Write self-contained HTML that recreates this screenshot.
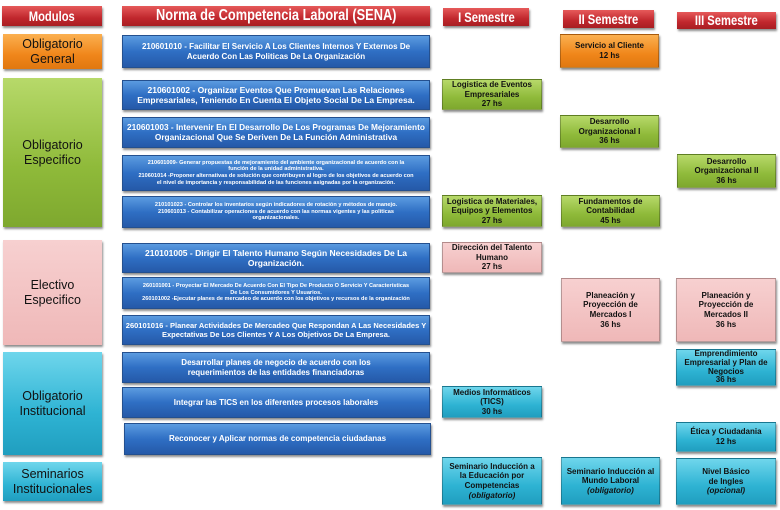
<!DOCTYPE html>
<html><head><meta charset="utf-8"><style>
body{margin:0;width:780px;height:510px;background:#fff;position:relative;overflow:hidden;font-family:"Liberation Sans",sans-serif}
.b{position:absolute;display:flex;align-items:center;justify-content:center;text-align:center;box-sizing:border-box;box-shadow:1px 2px 2px rgba(0,0,0,.45);line-height:1.2}
.h{background:linear-gradient(#e65a5a,#c0272d 60%,#a81e22);color:#fff;font-weight:bold;font-size:14px;white-space:nowrap}
.h span{display:inline-block;transform:scaleX(.8)}
.m{font-size:12.5px;color:#111;line-height:1.15}
.n{background:linear-gradient(#5b9be0,#2f6fc4 50%,#2559a8);color:#fff;font-weight:bold;font-size:8px;border:1px solid #24508f}
.s{font-weight:bold;font-size:8px;color:#111;border:1px solid rgba(0,0,0,.25)}
.or{background:linear-gradient(#fbb050,#f0861a 60%,#e07810)}
.gr{background:linear-gradient(#b7d96a,#8fba3a 60%,#7ea82e)}
.pk{background:linear-gradient(#f7d0d0,#efb8b8)}
.cy{background:linear-gradient(#6fd6ec,#2eb3d3 60%,#209ebf)}
</style></head><body>
<div class="b h" style="left:2px;top:6px;width:100px;height:20px"><span>Modulos</span></div>
<div class="b h" style="left:122px;top:6px;width:308px;height:20px;font-size:16px"><span>Norma de Competencia Laboral (SENA)</span></div>
<div class="b h" style="left:443px;top:8px;width:86px;height:18px"><span>I Semestre</span></div>
<div class="b h" style="left:563px;top:10px;width:91px;height:18px"><span>II Semestre</span></div>
<div class="b h" style="left:677px;top:12px;width:99px;height:17px"><span>III Semestre</span></div>

<div class="b m or" style="left:3px;top:34px;width:99px;height:35px"><div>Obligatorio<br>General</div></div>
<div class="b m gr" style="left:3px;top:78px;width:99px;height:149px"><div>Obligatorio<br>Especifico</div></div>
<div class="b m pk" style="left:3px;top:240px;width:99px;height:105px"><div>Electivo<br>Especifico</div></div>
<div class="b m cy" style="left:3px;top:352px;width:99px;height:103px"><div>Obligatorio<br>Institucional</div></div>
<div class="b m cy" style="left:3px;top:462px;width:99px;height:39px"><div>Seminarios<br>Institucionales</div></div>

<div class="b n" style="left:122px;top:35px;width:308px;height:33px"><div>210601010 - Facilitar El Servicio A Los Clientes Internos Y Externos De<br>Acuerdo Con Las Politicas De La Organización</div></div>
<div class="b n" style="left:122px;top:80px;width:308px;height:30px;font-size:8.5px"><div>210601002 - Organizar Eventos Que Promuevan Las Relaciones<br>Empresariales, Teniendo En Cuenta El Objeto Social De La Empresa.</div></div>
<div class="b n" style="left:122px;top:117px;width:308px;height:31px;font-size:8.3px"><div>210601003 - Intervenir En El Desarrollo De Los Programas De Mejoramiento<br>Organizacional Que Se Deriven De La Función Administrativa</div></div>
<div class="b n" style="left:122px;top:155px;width:308px;height:36px;font-size:5.6px"><div>210601009- Generar propuestas de mejoramiento del ambiente organizacional de acuerdo con la<br>función de la unidad administrativa.<br>210601014 -Proponer alternativas de solución que contribuyen al logro de los objetivos de acuerdo con<br>el nivel de importancia y responsabilidad de las funciones asignadas por la organización.</div></div>
<div class="b n" style="left:122px;top:196px;width:308px;height:32px;font-size:5.6px"><div>210101023 - Controlar los inventarios según indicadores de rotación y métodos de manejo.<br>210601013 - Contabilizar operaciones de acuerdo con las normas vigentes y las políticas<br>organizacionales.</div></div>
<div class="b n" style="left:122px;top:243px;width:308px;height:30px;font-size:8.5px"><div>210101005 - Dirigir El Talento Humano Según Necesidades De La<br>Organización.</div></div>
<div class="b n" style="left:122px;top:277px;width:308px;height:32px;font-size:5.6px"><div>260101001 - Proyectar El Mercado De Acuerdo Con El Tipo De Producto O Servicio Y Características<br>De Los Consumidores Y Usuarios.<br>260101002 -Ejecutar planes de mercadeo de acuerdo con los objetivos y recursos de la organización</div></div>
<div class="b n" style="left:122px;top:315px;width:308px;height:30px;font-size:7.5px"><div>260101016 - Planear Actividades De Mercadeo Que Respondan A Las Necesidades Y<br>Expectativas De Los Clientes Y A Los Objetivos De La Empresa.</div></div>
<div class="b n" style="left:122px;top:352px;width:308px;height:31px"><div>Desarrollar planes de negocio de acuerdo con los<br>requerimientos de las entidades financiadoras</div></div>
<div class="b n" style="left:122px;top:387px;width:308px;height:31px"><div>Integrar las TICS en los diferentes procesos laborales</div></div>
<div class="b n" style="left:124px;top:423px;width:307px;height:32px"><div>Reconocer y Aplicar normas de competencia ciudadanas</div></div>

<div class="b s gr" style="left:442px;top:79px;width:100px;height:31px"><div>Logistica de Eventos<br>Empresariales<br>27 hs</div></div>
<div class="b s gr" style="left:442px;top:195px;width:100px;height:32px"><div>Logistica de Materiales,<br>Equipos y Elementos<br>27 hs</div></div>
<div class="b s pk" style="left:442px;top:242px;width:100px;height:31px"><div>Dirección del Talento<br>Humano<br>27 hs</div></div>
<div class="b s cy" style="left:442px;top:386px;width:100px;height:32px"><div>Medios Informáticos<br>(TICS)<br>30 hs</div></div>
<div class="b s cy" style="left:442px;top:457px;width:100px;height:48px"><div>Seminario Inducción a<br>la Educación por<br>Competencias<br><i>(obligatorio)</i></div></div>

<div class="b s or" style="left:560px;top:34px;width:99px;height:34px"><div>Servicio al Cliente<br>12 hs</div></div>
<div class="b s gr" style="left:560px;top:115px;width:99px;height:33px"><div>Desarrollo<br>Organizacional I<br>36 hs</div></div>
<div class="b s gr" style="left:561px;top:195px;width:99px;height:32px"><div>Fundamentos de<br>Contabilidad<br>45 hs</div></div>
<div class="b s pk" style="left:561px;top:278px;width:99px;height:64px"><div>Planeación y<br>Proyección de<br>Mercados I<br>36 hs</div></div>
<div class="b s cy" style="left:561px;top:457px;width:99px;height:48px"><div>Seminario Inducción al<br>Mundo Laboral<br><i>(obligatorio)</i></div></div>

<div class="b s gr" style="left:677px;top:154px;width:99px;height:34px"><div>Desarrollo<br>Organizacional II<br>36 hs</div></div>
<div class="b s pk" style="left:676px;top:278px;width:100px;height:64px"><div>Planeación y<br>Proyección de<br>Mercados II<br>36 hs</div></div>
<div class="b s cy" style="left:676px;top:349px;width:100px;height:37px;line-height:1.1"><div>Emprendimiento<br>Empresarial y Plan de<br>Negocios<br>36 hs</div></div>
<div class="b s cy" style="left:676px;top:422px;width:100px;height:30px"><div>Ética y Ciudadania<br>12 hs</div></div>
<div class="b s cy" style="left:676px;top:458px;width:100px;height:47px"><div>Nivel Básico<br>de Ingles<br><i>(opcional)</i></div></div>
</body></html>
